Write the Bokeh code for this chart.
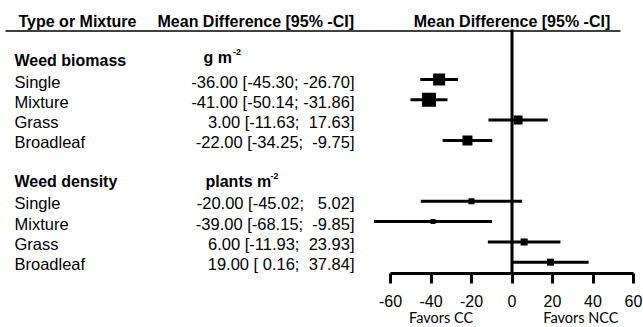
from bokeh.plotting import figure
from bokeh.models import Range1d, LinearAxis, FixedTicker, ColumnDataSource
from bokeh.core.properties import value
from bokeh.embed import file_html
from bokeh.resources import INLINE

# ---------------- data ----------------
groups = ["Weed biomass", "Weed density"]
units = ["g m", "plants m"]
types = ["Single", "Mixture", "Grass", "Broadleaf"]
biomass_mean = [-36.00, -41.00, 3.00, -22.00]
biomass_lo = [-45.30, -50.14, -11.63, -34.25]
biomass_hi = [-26.70, -31.86, 17.63, -9.75]
density_mean = [-20.00, -39.00, 6.00, 19.00]
density_lo = [-45.02, -68.15, -11.93, 0.16]
density_hi = [5.02, -9.85, 23.93, 37.84]
ticks = [-60, -40, -20, 0, 20, 40, 60]

# ---------------- styles / layout ----------------
biomass_size = [12, 14, 9, 10]
density_size = [6, 5, 7, 7]
W, H = 643, 327
X0PX, PXU = 511.5, 2.025           # pixel of 0 and pixels per unit
ROW0, STEP = 58.7, 20.3            # first row centre and row step (px)
AXIS_Y = 272.5
FONT = value("Liberation Sans")

def row_y(k):
    return ROW0 + k * STEP

p = figure(width=W, height=H, output_backend="svg", toolbar_location=None,
           x_axis_type=None, y_axis_type=None, min_border=0,
           x_range=Range1d(-X0PX / PXU, (W - X0PX) / PXU),
           y_range=Range1d(H, 0))
p.extra_x_ranges = {"px": Range1d(0, W)}
p.outline_line_color = None
p.background_fill_color = "white"
p.border_fill_color = "white"

def txt(x, y, s, size="16px", bold=True, align="left", px=True, font=FONT):
    kw = dict(x_range_name="px") if px else {}
    p.text(x=[x], y=[y], text=[s], text_font=font, text_font_size=size,
           text_font_style="bold" if bold else "normal",
           text_baseline="middle", text_align=align, text_color="black", **kw)

# header
txt(18, 21, "Type or Mixture")
txt(157, 21, "Mean Difference [95% -CI]")
txt(0, 21, "Mean Difference [95% -CI]", align="center", px=False)
p.segment(x0=[5], x1=[620], y0=[30.5], y1=[30.5], x_range_name="px",
          line_width=1.5, line_color="black")

def fmt(m, lo, hi):
    s = f"{m:.2f} [{lo:5.2f}; {hi:6.2f}]"
    return s.replace(" ", "\u00a0")

blocks = [
    (0, groups[0], units[0], 203, 232.5, biomass_mean, biomass_lo, biomass_hi, biomass_size, 1.5, -1.3),
    (6, groups[1], units[1], 205, 270.0, density_mean, density_lo, density_hi, density_size, 0.8, 0.8),
]
for k0, gname, unit, ux, sx, means, los, his, sizes, gdy, udy in blocks:
    hy = row_y(k0)
    txt(14, hy + gdy, gname)
    txt(ux, hy + udy, unit)
    txt(sx, hy + udy - 6, "-2", size="9px")
    ys = [row_y(k0 + 1 + i) for i in range(len(types))]
    src = ColumnDataSource(dict(
        y=ys, yt=[y + 2 for y in ys], name=types,
        lab=[fmt(m, l, h) for m, l, h in zip(means, los, his)],
        m=means, lo=los, hi=his, size=sizes,
        xn=[14] * len(ys), xv=[354] * len(ys)))
    p.text(x="xn", y="yt", text="name", source=src, x_range_name="px",
           text_font=FONT, text_font_size="16.5px", text_baseline="middle",
           text_color="black")
    p.text(x="xv", y="yt", text="lab", source=src, x_range_name="px",
           text_font=FONT, text_font_size="16.5px", text_baseline="middle",
           text_align="right", text_color="black")
    p.segment(x0="lo", x1="hi", y0="y", y1="y", source=src,
              line_width=3, line_color="black")
    p.scatter(x="m", y="y", size="size", marker="square", source=src,
              fill_color="black", line_color="black", line_width=0)

# zero line
p.segment(x0=[0], x1=[0], y0=[29], y1=[AXIS_Y], line_width=3, line_color="black")

# axis
ax = LinearAxis(fixed_location=AXIS_Y, ticker=FixedTicker(ticks=ticks),
                bounds=(min(ticks), max(ticks)))
ax.major_label_overrides = {t: str(t) for t in ticks}
ax.axis_line_width = 3
ax.axis_line_color = "black"
ax.major_tick_line_width = 3
ax.major_tick_line_color = "black"
ax.major_tick_in = 0
ax.major_tick_out = 10
ax.minor_tick_line_color = None
ax.major_label_text_font = "Liberation Sans"
ax.major_label_text_font_size = "16px"
ax.major_label_text_color = "black"
ax.major_label_standoff = 12
p.add_layout(ax, "below")

# favors labels
p.text(x=[-35, 34], y=[316.5, 316.5], text=["Favors CC", "Favors NCC"],
       text_font=value("Lato"), text_font_size="14.5px", text_baseline="middle",
       text_align="center", text_color="black")

open("out.html", "w").write(file_html(p, INLINE))
